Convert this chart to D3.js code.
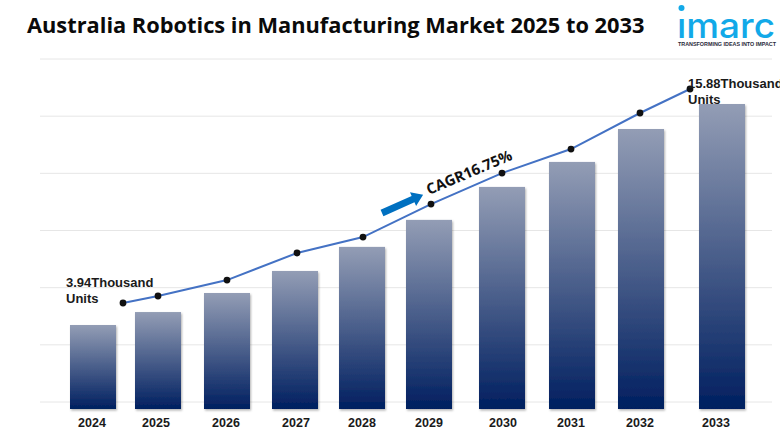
<!DOCTYPE html>
<html><head><meta charset="utf-8">
<script src="https://cdn.jsdelivr.net/npm/d3@7/dist/d3.min.js"></script>
<style>html,body{margin:0;padding:0;background:#fff}svg{display:block}</style>
</head><body><svg id="c" width="780" height="440"></svg>
<script>
const years=["2024","2025","2026","2027","2028","2029","2030","2031","2032","2033"];
const barValues=[3.94,4.64,5.67,6.86,8.16,9.62,11.40,12.75,14.53,15.88];
const lineValues=[3.94,4.33,5.22,6.73,7.62,9.46,11.19,12.53,14.54,15.88];
const gridTicks=[0,1,2,3,4,5,6];
const title="Australia Robotics in Manufacturing Market 2025 to 2033";
const barCentres=[93,158,227,295,362,429,502,572,641,722];
const lineCentres=[123,158,227,297,363,431,502,571,640,690];
const labelCentres=[92,156,226,296,362,429,503,571,640,716];

const svg=d3.select("#c");
const defs=svg.append("defs");
const g=defs.append("linearGradient").attr("id","bar").attr("x1",0).attr("y1",0).attr("x2",0).attr("y2",1);
g.append("stop").attr("offset","0%").attr("stop-color","#939db5");
g.append("stop").attr("offset","100%").attr("stop-color","#001f60");
const f=defs.append("filter").attr("id","sh").attr("x","-10%").attr("y","-5%").attr("width","125%").attr("height","112%");
f.append("feDropShadow").attr("dx",1).attr("dy",1.5).attr("stdDeviation",1.2).attr("flood-color","#000").attr("flood-opacity",.3);

const xBar=d3.scaleOrdinal().domain(years).range(barCentres);
const xLine=d3.scaleOrdinal().domain(years).range(lineCentres);
const xLabel=d3.scaleOrdinal().domain(years).range(labelCentres);
const yBar=d3.scaleLinear().domain([3.94,15.88]).range([325,104]);
const yLine=d3.scaleLinear().domain([3.94,15.88]).range([303,89]);
const yGrid=d3.scaleLinear().domain([0,6]).range([402,59]);
const base=409, bw=46;

svg.append("g").selectAll("line").data(gridTicks).join("line")
 .attr("x1",40).attr("x2",772).attr("y1",d=>yGrid(d)).attr("y2",d=>yGrid(d))
 .attr("stroke","#e6e6e6").attr("stroke-width",1);

svg.append("g").selectAll("rect").data(years).join("rect")
 .attr("x",d=>xBar(d)-bw/2).attr("width",bw)
 .attr("y",(d,i)=>yBar(barValues[i])).attr("height",(d,i)=>base-yBar(barValues[i]))
 .attr("fill","url(#bar)").attr("filter","url(#sh)");

svg.append("g").selectAll("text").data(years).join("text")
 .attr("x",d=>xLabel(d)).attr("y",427).attr("text-anchor","middle")
 .attr("font-family","Liberation Sans").attr("font-weight","bold").attr("font-size",12.5).attr("fill","#1a1a1a")
 .text(d=>d);

const line=d3.line().x((d,i)=>xLine(years[i])).y(d=>yLine(d));
svg.append("path").attr("d",line(lineValues)).attr("fill","none").attr("stroke","#4472c4").attr("stroke-width",2);
svg.append("g").selectAll("circle").data(lineValues).join("circle")
 .attr("cx",(d,i)=>xLine(years[i])).attr("cy",d=>yLine(d)).attr("r",3.4).attr("fill","#111");

svg.append("text").attr("x",27).attr("y",33).attr("font-family","Open Sans").attr("font-weight","bold")
 .attr("font-size",21.8).attr("fill","#0a0a0a").text(title);

function lab(x,y,a,b){const t=svg.append("text").attr("font-family","Liberation Sans").attr("font-weight","bold").attr("font-size",13).attr("fill","#1a1a1a");
 t.append("tspan").attr("x",x).attr("y",y).text(a);t.append("tspan").attr("x",x).attr("y",y+16).text(b);}
lab(66,287,"3.94Thousand","Units");
lab(688,88,"15.88Thousand","Units");

// CAGR arrow and label
const arrow=svg.append("g").attr("transform","translate(382,213) rotate(-24)");
arrow.append("path").attr("d",d3.line()([[0,-3.5],[34,-3.5],[34,-7.5],[45,0],[34,7.5],[34,3.5],[0,3.5]])).attr("fill","#0070c0");
svg.append("text").attr("transform","translate(429,195) rotate(-23)").attr("font-family","Open Sans")
 .attr("font-weight","bold").attr("font-size",14.8).attr("fill","#111").text("CAGR16.75%");

// logo
const blue="#12a9e8";
svg.append("circle").attr("cx",681.5).attr("cy",8).attr("r",3).attr("fill",blue);
svg.append("text").attr("x",677).attr("y",38).attr("font-family","Inter").attr("font-weight","500")
 .attr("font-size",35).attr("textLength",98).attr("lengthAdjust","spacingAndGlyphs").attr("fill",blue).text("ımarc");
svg.append("text").attr("x",678).attr("y",45.5).attr("font-family","Liberation Sans").attr("font-weight","bold")
 .attr("font-size",5.4).attr("textLength",98).attr("lengthAdjust","spacingAndGlyphs").attr("fill","#2a2a3a").text("TRANSFORMING IDEAS INTO IMPACT");
</script></body></html>
